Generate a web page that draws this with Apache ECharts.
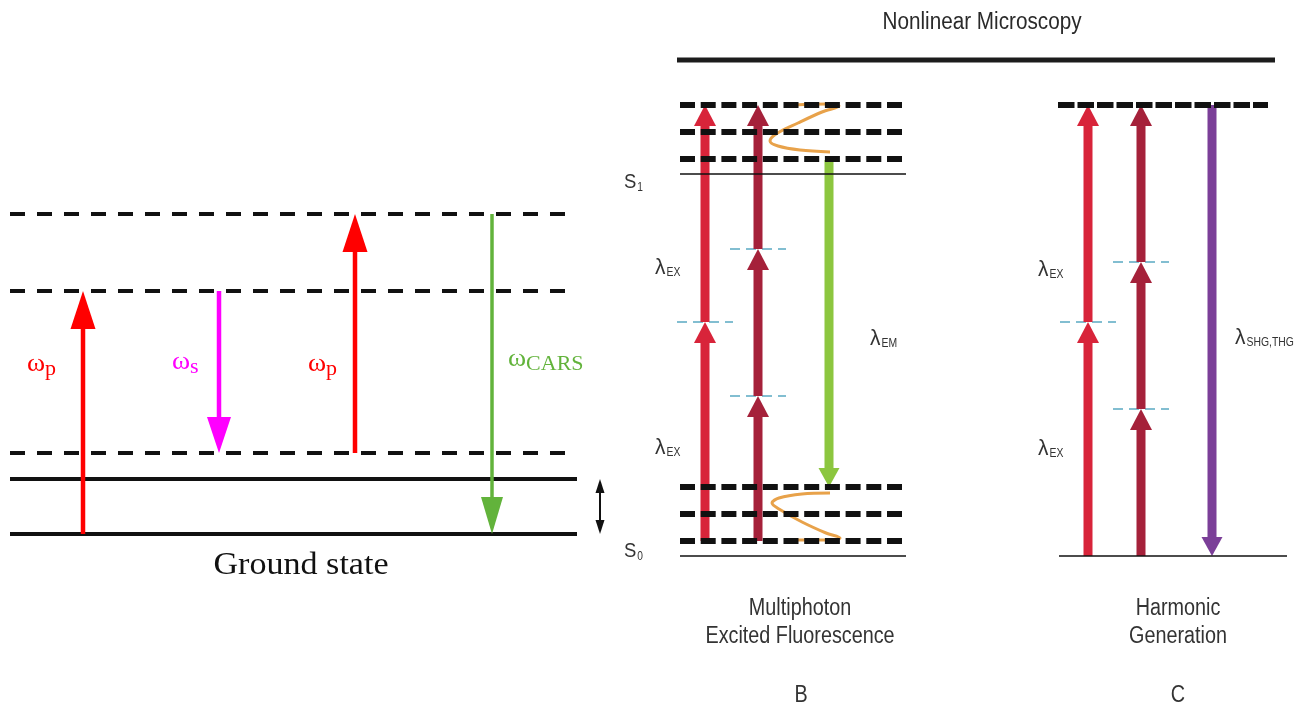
<!DOCTYPE html>
<html><head><meta charset="utf-8">
<script src="https://cdn.jsdelivr.net/npm/echarts@6/dist/echarts.min.js"></script>
<style>html,body{margin:0;padding:0;background:#fff}#c{width:1301px;height:709px}</style>
</head><body><div id="c"></div>
<script>
// ================= DATA (diagram space: x 0..1301, y 0..709 downward) =================
// ---- Panel A : CARS ----
const carsSpan = [10, 577];
const carsVirtualLevels = [214, 291, 453];
const carsRealLevels = [479, 534];
const carsArrowX = [83, 219, 355, 492];
const carsArrowFrom = [534, 291, 453, 214];
const carsArrowTo = [291, 453, 214, 534];
const carsLabelMain = ['ω', 'ω', 'ω', 'ω'];
const carsLabelSub = ['p', 's', 'p', 'CARS'];
const carsLabelX = [27, 172, 308, 508];
const carsLabelY = [364, 362, 364, 359];
const carsVibX = [600];
const carsVibRange = [479, 534];
const carsCaption = ['Ground state'];
const carsCaptionX = [301];
const carsCaptionY = [566];

// ---- Title over B and C ----
const titleText = ['Nonlinear Microscopy'];
const titleX = [982];
const titleY = [23];
const titleRule = [677, 1275, 60];

// ---- Panel B : Multiphoton excited fluorescence ----
const mpefSpan = [680, 907];
const mpefS1Vib = [105, 132, 159];
const mpefS0Vib = [487, 514, 541];
const mpefElectronic = [174, 556];
const mpefStateMain = ['S', 'S'];
const mpefStateSub = ['1', '0'];
const mpefStateX = [624, 624];
const mpefStateY = [182, 551];
const mpefExX = [705, 758];
const mpefRedSteps = [541, 322, 105];
const mpefDarkSteps = [541, 396, 249, 105];
const mpefEmX = [829];
const mpefEmRange = [160, 487];
const relaxTopX = [830, 800, 778, 770, 776, 798, 822, 839, 826, 794];
const relaxTopY = [152, 150, 146, 141, 134, 123, 112, 106, 104, 105];
const relaxBotX = [830, 802, 779, 772, 779, 802, 826, 840, 830, 797];
const relaxBotY = [493, 494, 498, 503, 509, 522, 533, 538, 540, 540];
const mpefLambdaSub = ['EX', 'EX', 'EM'];
const mpefLambdaX = [655, 655, 870];
const mpefLambdaY = [268, 448, 339];
const mpefCaption = ['Multiphoton', 'Excited Fluorescence', 'B'];
const mpefCaptionX = [800, 800, 801];
const mpefCaptionY = [609, 637, 696];

// ---- Panel C : Harmonic generation ----
const harmVirtual = [105];
const harmVirtualSpan = [1058, 1268];
const harmGround = [556];
const harmGroundSpan = [1059, 1287];
const harmExX = [1088, 1141];
const harmRedSteps = [556, 322, 105];
const harmDarkSteps = [556, 409, 262, 105];
const harmEmX = [1212];
const harmEmRange = [105, 556];
const harmLambdaSub = ['EX', 'EX', 'SHG,THG'];
const harmLambdaX = [1038, 1038, 1235];
const harmLambdaY = [270, 449, 338];
const harmCaption = ['Harmonic', 'Generation', 'C'];
const harmCaptionX = [1178, 1178, 1178];
const harmCaptionY = [609, 637, 696];

// ================= STYLES =================
const C = {
  black: '#111111', red: '#ff0000', magenta: '#ff00ff', green: '#62b33b',
  exRed: '#d8243a', exDark: '#a5213a', emGreen: '#8cc63f', purple: '#7b3f98',
  orange: '#e8a24a', cyan: '#5aa9c2', text: '#333333'
};
const SERIF = "'Liberation Serif', 'Times New Roman', serif";
const SANS = "'Liberation Sans', Arial, sans-serif";

// ================= HELPERS =================
const ctx2d = document.createElement('canvas').getContext('2d');
function measure(text, font) { ctx2d.font = font; return ctx2d.measureText(text).width; }

function hLines(rows, st, z) {
  return {
    type: 'custom', coordinateSystem: 'cartesian2d', silent: true, animation: false, z: z,
    data: rows,
    renderItem: function (params, api) {
      const a = api.coord([api.value(0), api.value(2)]);
      const b = api.coord([api.value(1), api.value(2)]);
      return { type: 'line', shape: { x1: a[0], y1: a[1], x2: b[0], y2: b[1] },
        style: { stroke: st.color, lineWidth: st.width, lineDash: st.dash || null, lineCap: 'butt' } };
    }
  };
}

function arrows(rows, st, z) {
  return {
    type: 'custom', coordinateSystem: 'cartesian2d', silent: true, animation: false, z: z,
    data: rows,
    renderItem: function (params, api) {
      const x = api.value(0);
      const p0 = api.coord([x, api.value(1)]);
      const p1 = api.coord([x, api.value(2)]);
      const dir = p1[1] > p0[1] ? 1 : -1;
      const children = [];
      let start = p0[1], end = p1[1] - dir * st.headL;
      if (st.both) start = p0[1] + dir * st.headL;
      children.push({ type: 'rect', shape: { x: p0[0] - st.w / 2, y: Math.min(start, end), width: st.w, height: Math.abs(end - start) }, style: { fill: st.color } });
      children.push({ type: 'polygon', shape: { points: [[p1[0] - st.headW / 2, end], [p1[0] + st.headW / 2, end], [p1[0], p1[1]]] }, style: { fill: st.color } });
      if (st.both) {
        children.push({ type: 'polygon', shape: { points: [[p0[0] - st.headW / 2, start], [p0[0] + st.headW / 2, start], [p0[0], p0[1]]] }, style: { fill: st.color } });
      }
      return { type: 'group', children: children };
    }
  };
}

function labels(xs, ys, mains, subs, st, z) {
  return {
    type: 'custom', coordinateSystem: 'cartesian2d', silent: true, animation: false, z: z,
    data: xs.map(function (x, i) { return [x, ys[i]]; }),
    renderItem: function (params, api) {
      const i = params.dataIndex;
      const p = api.coord([api.value(0), api.value(1)]);
      const color = Array.isArray(st.color) ? st.color[i] : st.color;
      const mainFont = (st.weight || 'normal') + ' ' + st.size + 'px ' + st.family;
      const sx = st.scaleX || 1;
      const children = [{
        type: 'text', x: p[0], y: p[1], scaleX: sx, scaleY: 1,
        style: { text: mains[i], x: 0, y: 0, font: mainFont, fill: color,
          textAlign: st.align || 'left', textVerticalAlign: 'middle' }
      }];
      if (subs && subs[i]) {
        const subFont = 'normal ' + st.subSize + 'px ' + (st.subFamily || st.family);
        const mw = measure(mains[i], mainFont) * sx;
        children.push({
          type: 'text', x: p[0] + mw + (st.subGap || 0), y: p[1] + st.subDy, scaleX: st.subScaleX || sx, scaleY: 1,
          style: { text: subs[i], x: 0, y: 0, font: subFont, fill: color, textAlign: 'left', textVerticalAlign: 'middle' }
        });
      }
      return { type: 'group', children: children };
    }
  };
}

function curve(xs, ys, color, z) {
  return {
    type: 'line', smooth: 0.35, silent: true, animation: false, showSymbol: false, symbol: 'none', z: z,
    lineStyle: { color: color, width: 3 },
    data: xs.map(function (x, i) { return [x, ys[i]]; })
  };
}

function stepRows(x, steps) {
  const r = [];
  for (let i = 0; i < steps.length - 1; i++) r.push([x, steps[i], steps[i + 1]]);
  return r;
}
function markerRows(x, steps, half) {
  const r = [];
  for (let i = 1; i < steps.length - 1; i++) r.push([x - half, x + half, steps[i]]);
  return r;
}

// ================= BUILD =================
const series = [];
// Panel A
series.push(hLines(carsVirtualLevels.map(function (y) { return [carsSpan[0], carsSpan[1], y]; }), { color: C.black, width: 4, dash: [15, 12] }, 1));
series.push(hLines(carsRealLevels.map(function (y) { return [carsSpan[0], carsSpan[1], y]; }), { color: C.black, width: 4 }, 1));
const carsColors = [C.red, C.magenta, C.red, C.green];
const carsHead = [[25, 38, 4.5], [24, 36, 4.5], [25, 38, 4.5], [22, 37, 3.5]];
carsArrowX.forEach(function (x, i) {
  series.push(arrows([[x, carsArrowFrom[i], carsArrowTo[i]]], { color: carsColors[i], w: carsHead[i][2], headW: carsHead[i][0], headL: carsHead[i][1] }, 3));
});
series.push(arrows(carsVibX.map(function (x) { return [x, carsVibRange[0], carsVibRange[1]]; }), { color: C.black, w: 2, headW: 9, headL: 14, both: true }, 3));
series.push(labels(carsLabelX, carsLabelY, carsLabelMain, carsLabelSub,
  { color: carsColors, size: 25, family: SERIF, subSize: 20, subDy: 6, subGap: 0, scaleX: 1.1 }, 4));
series.push(labels(carsCaptionX, carsCaptionY, carsCaption, null,
  { color: C.black, size: 31, family: SERIF, scaleX: 1.1, align: 'center' }, 4));

// Title
series.push(labels(titleX, titleY, titleText, null, { color: '#2a2a2a', size: 23, family: SANS, scaleX: 0.9, align: 'center' }, 4));
series.push(hLines([titleRule], { color: '#1c1c1c', width: 5 }, 1));

// Panel B
series.push(curve(relaxTopX, relaxTopY, C.orange, 1));
series.push(curve(relaxBotX, relaxBotY, C.orange, 1));
series.push(hLines(markerRows(mpefExX[0], mpefRedSteps, 28).concat(markerRows(mpefExX[1], mpefDarkSteps, 28)), { color: C.cyan, width: 1.5, dash: [10, 6] }, 2));
series.push(arrows(stepRows(mpefExX[0], mpefRedSteps), { color: C.exRed, w: 9, headW: 22, headL: 21 }, 3));
series.push(arrows(stepRows(mpefExX[1], mpefDarkSteps), { color: C.exDark, w: 9, headW: 22, headL: 21 }, 3));
series.push(arrows(mpefEmX.map(function (x) { return [x, mpefEmRange[0], mpefEmRange[1]]; }), { color: C.emGreen, w: 9, headW: 21, headL: 19 }, 3));
series.push(hLines(mpefS1Vib.concat(mpefS0Vib).map(function (y) { return [mpefSpan[0], mpefSpan[1], y]; }), { color: C.black, width: 6, dash: [15, 5.7] }, 5));
series.push(hLines(mpefElectronic.map(function (y) { return [mpefSpan[0], mpefSpan[1] - 1, y]; }), { color: '#111', width: 1.5 }, 5));
series.push(labels(mpefStateX, mpefStateY, mpefStateMain, mpefStateSub,
  { color: C.text, size: 21, family: SANS, subSize: 12, subDy: 6, subGap: 1, scaleX: 0.88, subScaleX: 0.85 }, 6));
series.push(labels(mpefLambdaX, mpefLambdaY, ['λ', 'λ', 'λ'], mpefLambdaSub,
  { color: C.text, size: 22, family: SANS, subSize: 13, subDy: 4, subGap: 1, scaleX: 0.95, subScaleX: 0.8 }, 6));
series.push(labels(mpefCaptionX, mpefCaptionY, mpefCaption, null,
  { color: C.text, size: 23, family: SANS, scaleX: 0.86, align: 'center' }, 6));

// Panel C
series.push(hLines(markerRows(harmExX[0], harmRedSteps, 28).concat(markerRows(harmExX[1], harmDarkSteps, 28)), { color: C.cyan, width: 1.5, dash: [10, 6] }, 2));
series.push(arrows(stepRows(harmExX[0], harmRedSteps), { color: C.exRed, w: 9, headW: 22, headL: 21 }, 3));
series.push(arrows(stepRows(harmExX[1], harmDarkSteps), { color: C.exDark, w: 9, headW: 22, headL: 21 }, 3));
series.push(arrows(harmEmX.map(function (x) { return [x, harmEmRange[0], harmEmRange[1]]; }), { color: C.purple, w: 9, headW: 21, headL: 19 }, 3));
series.push(hLines(harmVirtual.map(function (y) { return [harmVirtualSpan[0], harmVirtualSpan[1], y]; }), { color: C.black, width: 6, dash: [16.5, 3] }, 5));
series.push(hLines(harmGround.map(function (y) { return [harmGroundSpan[0], harmGroundSpan[1], y]; }), { color: '#111', width: 1.5 }, 5));
series.push(labels(harmLambdaX, harmLambdaY, ['λ', 'λ', 'λ'], harmLambdaSub,
  { color: C.text, size: 22, family: SANS, subSize: 13, subDy: 4, subGap: 1, scaleX: 0.95, subScaleX: 0.8 }, 6));
series.push(labels(harmCaptionX, harmCaptionY, harmCaption, null,
  { color: C.text, size: 23, family: SANS, scaleX: 0.86, align: 'center' }, 6));

const chart = echarts.init(document.getElementById('c'), null, { renderer: 'canvas' });
chart.setOption({
  backgroundColor: '#ffffff',
  animation: false,
  grid: { left: 0, right: 0, top: 0, bottom: 0, containLabel: false },
  xAxis: { type: 'value', min: 0, max: 1301, show: false },
  yAxis: { type: 'value', min: 0, max: 709, inverse: true, show: false },
  series: series
});
</script></body></html>
